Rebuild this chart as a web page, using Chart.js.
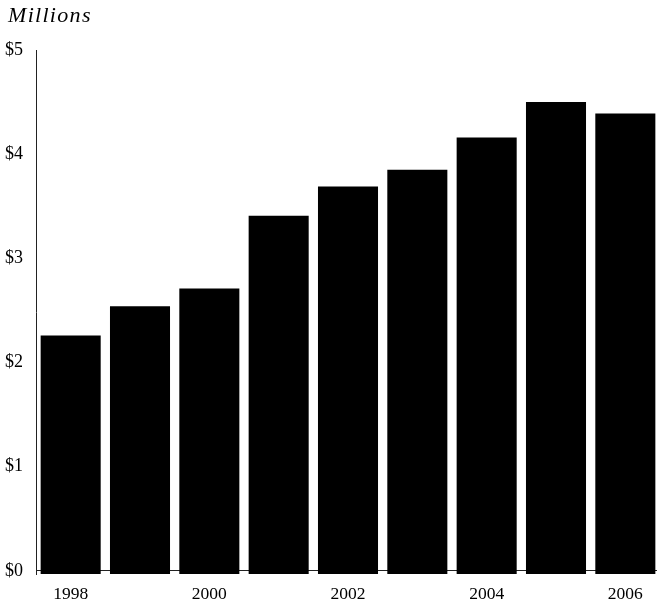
<!DOCTYPE html>
<html>
<head>
<meta charset="utf-8">
<script src="https://cdn.jsdelivr.net/npm/chart.js@4"></script>
<style>
  html, body { margin: 0; padding: 0; background: #fff; overflow: hidden; }
  #wrap { position: relative; width: 660px; height: 606px; }
</style>
</head>
<body>
<div id="wrap"><canvas id="c"></canvas></div>
<script>
const years = ['1998','1999','2000','2001','2002','2003','2004','2005','2006'];
const shownYears = ['1998','','2000','','2002','','2004','','2006'];
const values = [2.26, 2.54, 2.71, 3.41, 3.69, 3.85, 4.16, 4.50, 4.39];
const yTicks = [0, 1, 2, 3, 4, 5];
const unitLabel = 'Millions';

const serif = '"Liberation Serif", "DejaVu Serif", serif';

const titlePlugin = {
  id: 'unitTitle',
  afterDraw(chart) {
    const ctx = chart.ctx;
    ctx.save();
    ctx.font = 'italic 22px ' + serif;
    ctx.fillStyle = '#000';
    ctx.textAlign = 'left';
    ctx.textBaseline = 'alphabetic';
    try { ctx.letterSpacing = '1.3px'; } catch (e) {}
    ctx.fillText(unitLabel, 8, 22);
    ctx.restore();
  }
};

new Chart(document.getElementById('c'), {
  type: 'bar',
  data: {
    labels: years,
    datasets: [{
      data: values,
      backgroundColor: '#000',
      borderWidth: 0,
      base: -0.03,
      categoryPercentage: 1.0,
      barPercentage: 0.866
    }]
  },
  options: {
    responsive: true,
    maintainAspectRatio: false,
    animation: false,
    layout: { padding: { top: 50, right: 0, bottom: 0, left: 0 } },
    plugins: {
      legend: { display: false },
      tooltip: { enabled: false },
      title: { display: false }
    },
    scales: {
      x: {
        grid: { display: false, drawTicks: false },
        border: { display: false },
        ticks: {
          autoSkip: false,
          maxRotation: 0,
          padding: 10,
          color: '#000',
          font: { family: serif, size: 17.5 },
          callback: (v, i) => shownYears[i]
        },
        afterFit(scale) { scale.height = 32; }
      },
      y: {
        min: -0.03,
        max: 5,
        afterBuildTicks(scale) { scale.ticks = yTicks.map(v => ({ value: v })); },
        grid: {
          drawTicks: false,
          color: ctx => (ctx.tick && ctx.tick.value === 0) ? '#222' : 'rgba(0,0,0,0)',
          lineWidth: 1
        },
        border: { display: true, color: '#222', width: 1 },
        ticks: {
          padding: 13,
          color: '#000',
          font: { family: serif, size: 18 },
          callback: v => '$' + v
        },
        afterFit(scale) { scale.width = 36; }
      }
    }
  },
  plugins: [titlePlugin]
});
</script>
</body>
</html>
